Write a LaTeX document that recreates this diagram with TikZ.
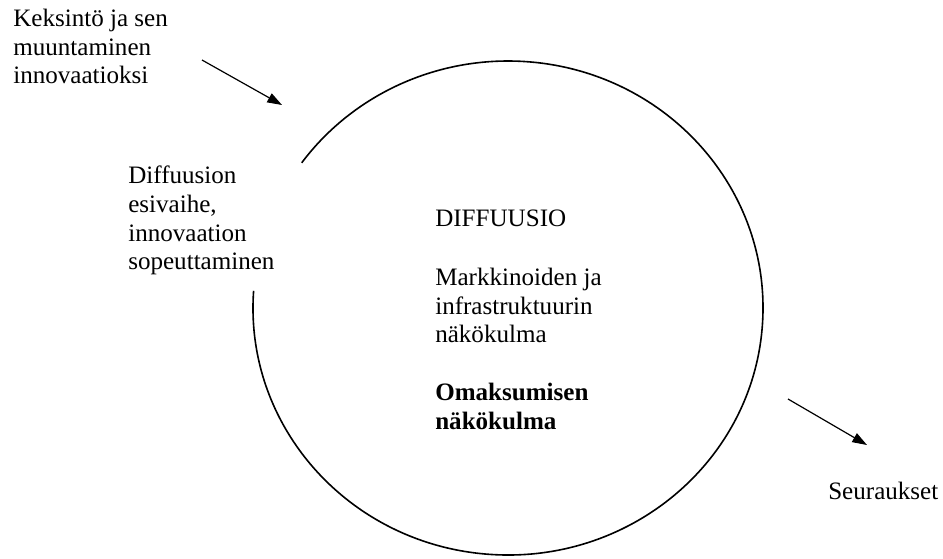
\documentclass[tikz,border=0pt]{standalone}
\usepackage{fontspec}
\setmainfont{Liberation Serif}
\usetikzlibrary{arrows.meta}

\tikzset{every picture/.style={line width=0.45pt}}

\begin{document}
\begin{tikzpicture}[x=0.75pt,y=0.75pt,yscale=-1,xscale=1,
  teksti/.style={anchor=north west, inner sep=0pt, align=left, font=\fontsize{18.8}{21.4}\selectfont},
  nuoli/.style={-{Triangle[length=11pt,width=7.5pt]}, line width=0.9pt}]
\useasboundingbox (0,0) rectangle (943,558);

%Open circle (diffusion)
\draw [line width=1.2pt] (508,308) ++(-176:255 and 247) arc[start angle=-176, end angle=-504, x radius=255, y radius=247];

% Text Nodes
\node (keksinto) at (13,9) [teksti] {Keksintö ja sen\\muuntaminen\\innovaatioksi};
\node (esivaihe) at (128,166) [teksti] {Diffuusion\\esivaihe,\\innovaation\\sopeuttaminen};
\node (diffuusio) at (435,210) [teksti] {DIFFUUSIO};
\node (markkinat) at (435,268) [teksti] {Markkinoiden ja\\infrastruktuurin\\näkökulma};
\node (omaksuminen) at (435,383) [teksti, font=\fontsize{18.8}{21.4}\selectfont\bfseries] {Omaksumisen\\näkökulma};
\node (seuraukset) at (828,482) [teksti] {Seuraukset};

%Arrows
\coordinate (k1) at (202,60);
\coordinate (k2) at (282,105);
\coordinate (s1) at (788,399);
\coordinate (s2) at (867,445);
\draw [nuoli] (k1) -- (k2);
\draw [nuoli] (s1) -- (s2);

\end{tikzpicture}
\end{document}
